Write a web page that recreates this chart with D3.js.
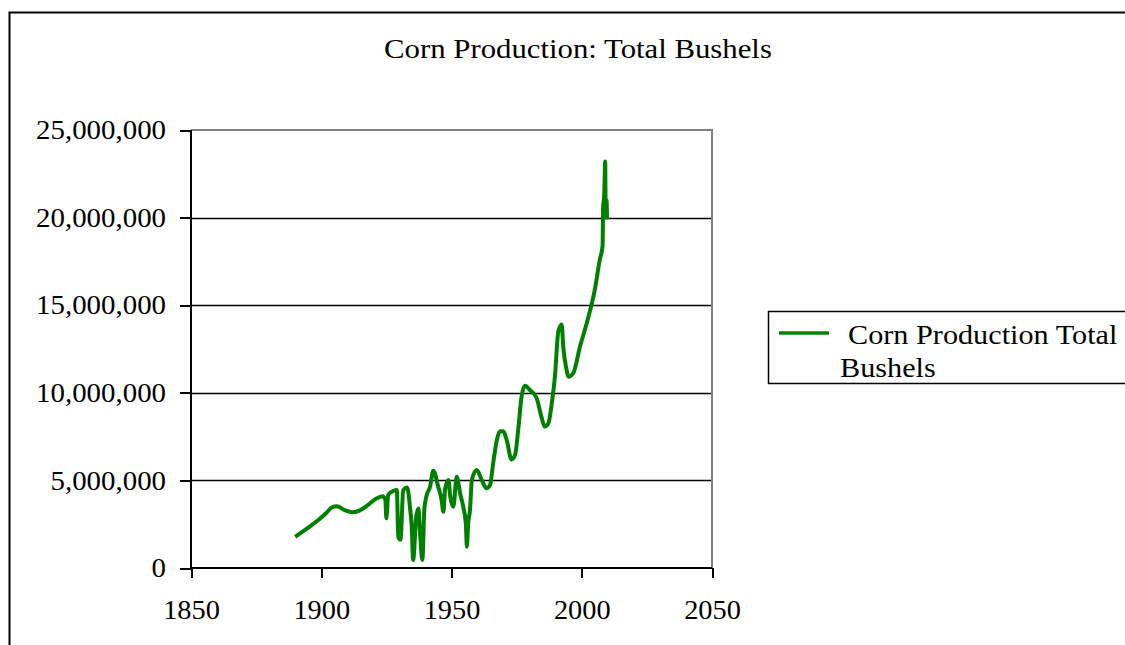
<!DOCTYPE html>
<html>
<head>
<meta charset="UTF-8" />
<title>Corn Production: Total Bushels</title>
<script src="https://d3js.org/d3.v7.min.js"></script>
<style>
	body { margin: 0; background: #fff; }
	svg text { font-family: "Liberation Serif", "Times New Roman", serif; fill: #000; }
	.axis path, .axis line { shape-rendering: crispEdges; }
</style>
</head>
<body>
<div id="main"></div>
<script>
// values
var years = [1890, 1895, 1900, 1902, 1904, 1906, 1909, 1912, 1915, 1918, 1921, 1923.5, 1924.6, 1925, 1925.7,
	1927.7, 1929, 1929.6, 1930.4, 1931.5, 1933, 1934.1, 1934.7, 1935.3, 1936.4, 1937.3, 1937.9, 1938.8, 1939.6,
	1940.5, 1941.7, 1943, 1944.9, 1946.2, 1946.9, 1947.5, 1948.8, 1949.5, 1950.7, 1952, 1953.3, 1954.5, 1955.5,
	1955.9, 1956.4, 1957.1, 1957.8, 1959.7, 1961.6, 1963.5, 1964.8, 1966, 1967.4, 1968.6, 1969.9, 1971.2, 1973,
	1974.4, 1975.6, 1976.9, 1978.2, 1980.1, 1982.7, 1984.5, 1985.8, 1987.2, 1988.5, 1989.7, 1991, 1992.3, 1992.9,
	1994.2, 1994.8, 1996.7, 1999.3, 2001.9, 2005, 2006.9, 2008, 2008.2, 2008.6, 2009, 2009.2, 2009.5, 2009.7];
var bushels = [1780000, 2300000, 2880000, 3150000, 3450000, 3520000, 3300000, 3180000, 3300000, 3600000, 3950000,
	4100000, 3900000, 2840000, 4170000, 4400000, 4450000, 1750000, 1620000, 4450000, 4600000, 3400000, 2450000,
	460000, 2840000, 3400000, 2070000, 460000, 3400000, 4170000, 4600000, 5550000, 4640000, 3880000, 3210000,
	4450000, 5020000, 4100000, 3500000, 5210000, 4260000, 3500000, 2550000, 1220000, 2550000, 3310000, 5020000,
	5600000, 5020000, 4550000, 4740000, 5980000, 7300000, 7800000, 7800000, 7300000, 6200000, 6450000, 7880000,
	9780000, 10400000, 10160000, 9690000, 8640000, 8070000, 8260000, 9400000, 10920000, 13500000, 13900000,
	12630000, 11300000, 10920000, 11110000, 12630000, 13970000, 15870000, 17580000, 18400000, 20600000, 21200000,
	23200000, 20000000, 21000000, 19900000];
var xTicks = [1850, 1900, 1950, 2000, 2050];
var yTicks = [0, 5000000, 10000000, 15000000, 20000000, 25000000];
var seriesName = ['Corn Production Total', 'Bushels'];
var chartTitle = 'Corn Production: Total Bushels';

var width = 1125, height = 645;

var svg = d3.select('#main').append('svg').attr('width', width).attr('height', height);

// outer chart frame
svg.append('rect').attr('x', 9.5).attr('y', 12.5).attr('width', 1130).attr('height', 660)
	.attr('fill', 'none').attr('stroke', '#000').attr('stroke-width', 2);

var x = d3.scaleLinear().domain([1850, 2050]).range([191, 712]);
var y = d3.scaleLinear().domain([0, 25000000]).range([568, 130]);

// text in the original is drawn a little wide
function widen(sel, sx, ax, ay) {
	sel.attr('transform', 'translate(' + ax + ',' + ay + ') scale(' + sx + ',1) translate(' + (-ax) + ',' + (-ay) + ')');
}

// gridlines
svg.append('g').selectAll('line').data(yTicks.slice(1, -1)).enter().append('line')
	.attr('x1', x(1850)).attr('x2', x(2050))
	.attr('y1', d => Math.round(y(d)) + 0.5).attr('y2', d => Math.round(y(d)) + 0.5)
	.attr('stroke', '#000').attr('stroke-width', 1.5);

// plot border top / right (gray)
svg.append('path')
	.attr('d', 'M' + x(1850) + ',' + y(25000000) + 'H' + x(2050) + 'V' + y(0))
	.attr('fill', 'none').attr('stroke', '#808080').attr('stroke-width', 2);

// series line
var line = d3.line().x((d, i) => x(years[i])).y(d => y(d)).curve(d3.curveMonotoneX);
svg.append('path').datum(bushels).attr('d', line)
	.attr('fill', 'none').attr('stroke', '#008000').attr('stroke-width', 4).attr('stroke-linejoin', 'round');

// axes
var yAxis = svg.append('g').attr('class', 'axis').attr('transform', 'translate(' + x(1850) + ',0)')
	.call(d3.axisLeft(y).tickValues(yTicks).tickSize(11).tickPadding(14).tickFormat(d3.format(',')));
var xAxis = svg.append('g').attr('class', 'axis').attr('transform', 'translate(0,' + y(0) + ')')
	.call(d3.axisBottom(x).tickValues(xTicks).tickSize(10).tickPadding(22).tickFormat(d3.format('d')));
[yAxis, xAxis].forEach(function (a) {
	a.select('.domain').attr('stroke', '#000').attr('stroke-width', 2);
	a.selectAll('.tick line').attr('stroke', '#000').attr('stroke-width', 2);
	a.selectAll('.tick text').attr('font-size', '27px').attr('font-family', null);
});
xAxis.select('.domain').attr('d', 'M' + x(1850) + ',0H' + x(2050));
yAxis.select('.domain').attr('d', 'M0,' + y(25000000) + 'V' + y(0));
yAxis.selectAll('.tick text').call(widen, 1.07, -25, 0);
xAxis.selectAll('.tick text').call(widen, 1.05, 0, 0);

// title
svg.append('text').attr('x', 578).attr('y', 58).attr('text-anchor', 'middle')
	.attr('font-size', '27px').text(chartTitle).call(widen, 1.14, 578, 58);

// legend
var lg = svg.append('g');
lg.append('rect').attr('x', 768.5).attr('y', 311.5).attr('width', 400).attr('height', 72)
	.attr('fill', '#fff').attr('stroke', '#000').attr('stroke-width', 1.5);
lg.append('line').attr('x1', 779).attr('x2', 829).attr('y1', 333).attr('y2', 333)
	.attr('stroke', '#008000').attr('stroke-width', 3.5);
lg.append('text').attr('x', 848).attr('y', 344).attr('font-size', '27px').text(seriesName[0]).call(widen, 1.12, 848, 344);
lg.append('text').attr('x', 840).attr('y', 377).attr('font-size', '27px').text(seriesName[1]).call(widen, 1.12, 840, 377);
</script>
</body>
</html>
